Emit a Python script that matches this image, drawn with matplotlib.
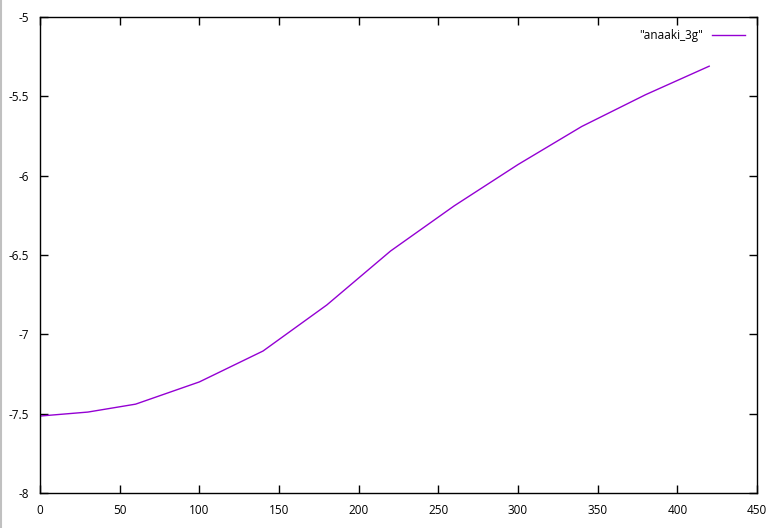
import matplotlib.pyplot as plt

# Data
x_vals = [0, 30, 60, 100, 140, 180, 220, 260, 300, 340, 380, 420]
y_vals = [-7.515, -7.49, -7.44, -7.30, -7.105, -6.815, -6.475, -6.19, -5.93, -5.69, -5.49, -5.31]
series_name = '"anaaki_3g"'

x_ticks = [0, 50, 100, 150, 200, 250, 300, 350, 400, 450]
y_ticks = [-8, -7.5, -7, -6.5, -6, -5.5, -5]
y_tick_labels = ['-8', '-7.5', '-7', '-6.5', '-6', '-5.5', '-5']

plt.rcParams['font.family'] = ['Open Sans', 'DejaVu Sans']

fig = plt.figure(figsize=(7.72, 5.28), dpi=100)
ax = fig.add_axes([40 / 772, 35 / 528, 717 / 772, 476 / 528])

ax.plot(x_vals, y_vals, color='#9400d3', linewidth=1.0, label=series_name)

ax.set_xlim(0, 450)
ax.set_ylim(-8, -5)
ax.set_xticks(x_ticks)
ax.set_yticks(y_ticks)
ax.set_yticklabels(y_tick_labels)
ax.tick_params(direction='in', top=True, right=True, length=6, width=1,
               labelsize=8.5, pad=8, colors='black')
for s in ax.spines.values():
    s.set_linewidth(1.0)

ax.legend(loc='upper right', frameon=False, markerfirst=False, fontsize=8.5,
          handlelength=2.8, borderaxespad=0.6, handletextpad=0.8)

# thin grey edge at the far left of the image
fig.add_artist(plt.Line2D([0.001, 0.001], [0, 1], color='#c0c0c0', linewidth=1.5,
                          transform=fig.transFigure))

fig.savefig('out.png', dpi=100)
